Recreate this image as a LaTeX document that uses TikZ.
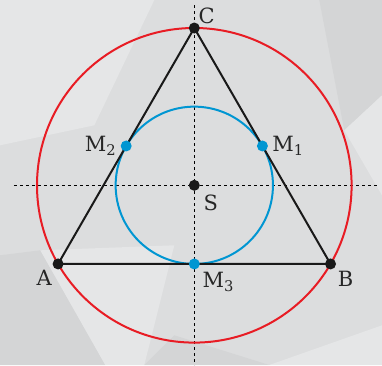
\documentclass[tikz,border=0pt]{standalone}
\usepackage{fontspec}
\setmainfont{DejaVu Serif}
\usetikzlibrary{positioning}

\definecolor{rosso}{RGB}{232,28,36}
\definecolor{azzurro}{RGB}{0,150,210}
\definecolor{sfondo}{RGB}{220,221,222}
\definecolor{chiaro}{RGB}{229,230,231}
\definecolor{scuro}{RGB}{212,213,214}

\tikzset{
    vertice/.style={circle,fill=black!90,inner sep=0pt,minimum size=11pt},
    medio/.style={circle,fill=azzurro,inner sep=0pt,minimum size=11pt},
    etichetta/.style={font=\fontsize{21}{24}\selectfont,text=black!85},
    asse/.style={dash pattern=on 3pt off 3pt,line width=0.9pt}
}

\begin{document}
\begin{tikzpicture}[x=1pt,y=1pt]
    \def\R{157.3}
    \def\r{78.65}

    % Sfondo sfaccettato
    \fill[sfondo] (-194.3,-179.7) rectangle (187.7,185.3);
    \fill[chiaro] (-194.3,185.3) -- (-40,185.3) -- (-100,60) -- (-194.3,40) -- cycle;
    \fill[scuro] (-194.3,-70) -- (-154,-65) -- (-89,-179.7) -- (-194.3,-179.7) -- cycle;
    \fill[chiaro] (-154,-65) -- (-20,-60) -- (-50,-179.7) -- (-89,-179.7) -- cycle;
    \fill[scuro] (125,185.3) -- (150,55) -- (187.7,90) -- (187.7,185.3) -- cycle;
    \fill[chiaro] (150,55) -- (187.7,90) -- (187.7,-10) -- cycle;
    \fill[chiaro] (75,-179.7) -- (187.7,-140) -- (187.7,-179.7) -- cycle;
    \fill[scuro] (-20,-150) -- (75,-179.7) -- (-50,-179.7) -- cycle;
    \useasboundingbox (-194.3,-179.7) rectangle (187.7,185.3);

    % Punti
    \coordinate (S) at (0,0);
    \coordinate (A) at (210:\R);
    \coordinate (B) at (-30:\R);
    \coordinate (C) at (90:\R);
    \coordinate (M1) at (30:\r);
    \coordinate (M2) at (150:\r);
    \coordinate (M3) at (270:\r);

    % Assi tratteggiati
    \coordinate (sx) at (-180.3,0);
    \coordinate (dx) at (182.7,0);
    \coordinate (su) at (0,180.3);
    \coordinate (giu) at (0,-179.7);
    \draw[asse] (sx) -- (dx);
    \draw[asse] (su) -- (giu);

    % Cerchio circoscritto e inscritto
    \draw[rosso,line width=2pt] (S) circle(\R);
    \draw[azzurro,line width=2pt] (S) circle(\r);

    % Triangolo
    \draw[black!90,line width=2pt,line join=round] (A) -- (B) -- (C) -- cycle;

    % Vertici e punti medi
    \foreach \p/\pos/\sep in {A/below left/2pt, B/below right/3pt, C/above right/0pt, S/below right/5pt} {
        \node[vertice,label={[etichetta,inner sep=\sep]\pos:\p}] (n\p) at (\p) {};
    }
    \node[medio,label={[etichetta,inner sep=4pt]right:M\textsubscript{1}}] (nM1) at (M1) {};
    \node[medio,label={[etichetta,inner sep=4pt]left:M\textsubscript{2}}] (nM2) at (M2) {};
    \node[medio,label={[etichetta,inner sep=4pt]below right:M\textsubscript{3}}] (nM3) at (M3) {};
\end{tikzpicture}
\end{document}
